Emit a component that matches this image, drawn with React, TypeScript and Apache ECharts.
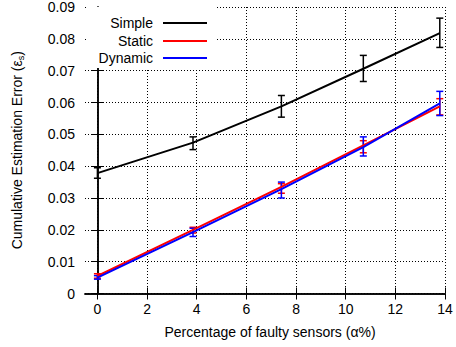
import React, { useEffect, useRef } from "react";
import * as echarts from "echarts";

const xValues = [0, 3.85, 7.41, 10.71, 13.79];
const simpleMean = [0.0378, 0.0474, 0.0588, 0.0706, 0.0818];
const simpleLo = [0.0362, 0.0452, 0.0554, 0.0666, 0.0773];
const simpleHi = [0.0395, 0.0492, 0.0622, 0.0748, 0.0865];
const staticMean = [0.0055, 0.02, 0.0335, 0.0465, 0.0588];
const staticLo = [0.0048, 0.019, 0.0315, 0.0442, 0.0561];
const staticHi = [0.0062, 0.0208, 0.0345, 0.048, 0.0612];
const dynamicMean = [0.005, 0.0193, 0.0328, 0.046, 0.0597];
const dynamicLo = [0.0045, 0.0179, 0.03, 0.0432, 0.0559];
const dynamicHi = [0.0056, 0.0205, 0.035, 0.0492, 0.0635];
const xTicks = [0, 2, 4, 6, 8, 10, 12, 14];
const seriesNames = ["Simple", "Static", "Dynamic"];
const seriesColors = ["#000000", "#ff0000", "#0000ff"];

const FONT = "'Liberation Sans', Arial, Helvetica, sans-serif";
const FS = 14;

function lineData(ys: number[]) {
  return xValues.map((x, i) => [x, ys[i]]);
}
function errData(lo: number[], hi: number[]) {
  return xValues.map((x, i) => [x, lo[i], hi[i]]);
}

function errSeries(lo: number[], hi: number[], color: string) {
  return {
    type: "custom",
    xAxisIndex: 0,
    yAxisIndex: 0,
    data: errData(lo, hi),
    encode: { x: 0, y: [1, 2] },
    z: 5,
    renderItem: (params: any, api: any) => {
      const x = api.value(0);
      const p1 = api.coord([x, api.value(1)]);
      const p2 = api.coord([x, api.value(2)]);
      const w = 3.5;
      const style = { stroke: color, lineWidth: 1.5 };
      return {
        type: "group",
        children: [
          { type: "line", shape: { x1: p1[0], y1: p1[1], x2: p2[0], y2: p2[1] }, style },
          { type: "line", shape: { x1: p1[0] - w, y1: p1[1], x2: p1[0] + w, y2: p1[1] }, style },
          { type: "line", shape: { x1: p2[0] - w, y1: p2[1], x2: p2[0] + w, y2: p2[1] }, style },
        ],
      };
    },
  };
}

export default function App() {
  const ref = useRef<HTMLDivElement>(null);
  useEffect(() => {
    document.body.style.margin = "0";
    const chart = echarts.init(ref.current!, null, { renderer: "svg" });
    const axisLine = { show: true, lineStyle: { color: "#000", width: 1.5 } };
    const axisTick = { show: true, inside: true, length: 6, lineStyle: { color: "#000", width: 1 } };
    const splitLine = { show: true, lineStyle: { color: "#000", width: 1, type: [1, 2] } };
    const legendX = 153;
    const legendRows = [23, 41, 58];
    const graphic: any[] = [
      { type: "rect", shape: { x: 86, y: 7, width: 129, height: 61 }, style: { fill: "#fff" }, z: 3 },
    ];
    seriesNames.forEach((n, i) => {
      graphic.push({
        type: "text",
        x: legendX,
        y: legendRows[i],
        z: 4,
        style: { text: n, align: "right", verticalAlign: "middle", font: `${FS}px ${FONT}`, fill: "#000" },
      });
      graphic.push({
        type: "line",
        z: 4,
        shape: { x1: 163, y1: legendRows[i], x2: 207, y2: legendRows[i] },
        style: { stroke: seriesColors[i], lineWidth: 2 },
      });
    });
    chart.setOption({
      animation: false,
      textStyle: { fontFamily: FONT },
      grid: { left: 85, top: 6, right: 11, bottom: 53.5, containLabel: false },
      xAxis: [
        {
          type: "value",
          min: -0.5,
          max: 14,
          axisLine,
          axisTick: { ...axisTick, customValues: xTicks },
          axisLabel: { customValues: xTicks, color: "#000", fontSize: FS, margin: 8, fontFamily: FONT },
          splitLine,
          name: "Percentage of faulty sensors (\u03b1%)",
          nameLocation: "middle",
          nameGap: 31,
          nameTextStyle: { color: "#000", fontSize: FS, fontFamily: FONT, padding: [0, 0, 0, 10] },
        },
        {
          type: "value",
          position: "top",
          min: -0.5,
          max: 14,
          axisLine,
          axisTick: { ...axisTick, customValues: xTicks },
          axisLabel: { show: false, customValues: xTicks },
          splitLine: { show: false },
        },
      ],
      yAxis: [
        {
          type: "value",
          min: 0,
          max: 0.09,
          interval: 0.01,
          axisLine,
          axisTick,
          axisLabel: {
            color: "#000",
            fontSize: FS,
            margin: 10,
            fontFamily: FONT,
            formatter: (v: number) => (v === 0 ? "0" : v.toFixed(2)),
          },
          splitLine,
          name: "Cumulative Estimation Error (\u03b5{s|s})",
          nameLocation: "middle",
          nameGap: 60,
          nameTextStyle: {
            color: "#000",
            fontSize: FS,
            fontFamily: FONT,
            rich: { s: { fontSize: 9, verticalAlign: "bottom", padding: [7, 0, 0, 0], fontFamily: FONT } },
          },
        },
        {
          type: "value",
          position: "right",
          min: 0,
          max: 0.09,
          interval: 0.01,
          axisLine,
          axisTick,
          axisLabel: { show: false },
          splitLine: { show: false },
        },
      ],
      graphic,
      series: [
        {
          type: "line",
          name: "Simple",
          data: lineData(simpleMean),
          showSymbol: false,
          lineStyle: { color: seriesColors[0], width: 2 },
          z: 6,
        },
        errSeries(simpleLo, simpleHi, seriesColors[0]),
        {
          type: "line",
          name: "Static",
          data: lineData(staticMean),
          showSymbol: false,
          lineStyle: { color: seriesColors[1], width: 2 },
          z: 6,
        },
        errSeries(staticLo, staticHi, seriesColors[1]),
        {
          type: "line",
          name: "Dynamic",
          data: lineData(dynamicMean),
          showSymbol: false,
          lineStyle: { color: seriesColors[2], width: 2 },
          z: 6,
        },
        errSeries(dynamicLo, dynamicHi, seriesColors[2]),
      ],
    });
    return () => chart.dispose();
  }, []);
  return <div ref={ref} style={{ width: 456, height: 347 }} />;
}
